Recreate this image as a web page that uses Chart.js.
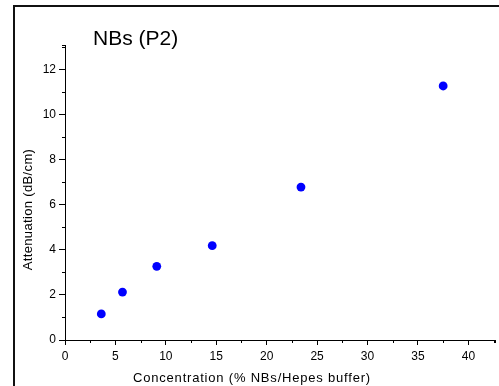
<!DOCTYPE html>
<html>
<head>
<meta charset="utf-8">
<title>NBs (P2)</title>
<script src="https://cdn.jsdelivr.net/npm/chart.js@4/dist/chart.umd.min.js"></script>
<style>
  html, body { margin: 0; padding: 0; background: #fff; }
  #wrap { position: relative; width: 499px; height: 386px; overflow: hidden; }
  #wrap canvas { position: absolute; left: 0; top: 0; }
  #frame { position: absolute; left: 13px; top: 5px; right: -10px; bottom: -10px;
           border-left: 2px solid #111; border-top: 2px solid #111; pointer-events: none; }
</style>
</head>
<body>
<div id="wrap">
  <canvas id="chart" width="499" height="386"></canvas>
  <div id="frame"></div>
</div>
<script>
// Measured attenuation versus nanobubble concentration
const concentration = [3.6, 5.7, 9.1, 14.6, 23.4, 37.5];
const attenuation   = [1.16, 2.13, 3.27, 4.19, 6.79, 11.28];

// Axis ranges and tick values
const xRange = [0, 42.6];
const yRange = [0, 13.1];
const xTickValues  = [0, 5, 10, 15, 20, 25, 30, 35, 40];
const yTickValues  = [0, 2, 4, 6, 8, 10, 12];
const xMinorValues = [2.5, 7.5, 12.5, 17.5, 22.5, 27.5, 32.5, 37.5, 42.5];
const yMinorValues = [1, 3, 5, 7, 9, 11, 13];

// Text
const chartTitle = 'NBs (P2)';
const xTitle = 'Concentration (% NBs/Hepes buffer)';
const yTitle = 'Attenuation (dB/cm)';

const FONT = '"Liberation Sans", Arial, Helvetica, sans-serif';

// Short minor ticks, axis end caps and the free-placed titles
const decorations = {
  id: 'decorations',
  afterDraw(chart) {
    const ctx = chart.ctx;
    const xs = chart.scales.x, ys = chart.scales.y;
    const area = chart.chartArea;
    ctx.save();
    ctx.strokeStyle = '#000';
    ctx.lineWidth = 1;
    ctx.beginPath();
    xMinorValues.filter(v => v <= xRange[1]).concat([xRange[1]]).forEach(v => {
      const px = Math.round(xs.getPixelForValue(v)) + 0.5;
      ctx.moveTo(px, area.bottom);
      ctx.lineTo(px, area.bottom + 3);
    });
    yMinorValues.filter(v => v <= yRange[1]).concat([yRange[1]]).forEach(v => {
      const py = Math.round(ys.getPixelForValue(v)) + 0.5;
      ctx.moveTo(area.left, py);
      ctx.lineTo(area.left - 3, py);
    });
    ctx.stroke();

    ctx.fillStyle = '#000';
    ctx.font = '21px ' + FONT;
    ctx.textAlign = 'left';
    ctx.textBaseline = 'alphabetic';
    ctx.fillText(chartTitle, 93, 45);

    ctx.font = '13px ' + FONT;
    ctx.textAlign = 'center';
    ctx.textBaseline = 'middle';
    ctx.letterSpacing = '0.8px';
    ctx.fillText(xTitle, 252, 378);

    ctx.translate(28, 209.5);
    ctx.rotate(-Math.PI / 2);
    ctx.letterSpacing = '0.35px';
    ctx.fillText(yTitle, 0, 0);
    ctx.restore();
  }
};

new Chart(document.getElementById('chart'), {
  type: 'scatter',
  data: {
    datasets: [{
      label: chartTitle,
      data: concentration.map((x, i) => ({ x: x, y: attenuation[i] })),
      backgroundColor: '#0000ff',
      borderWidth: 0,
      pointRadius: 4.4,
      pointHoverRadius: 4.4
    }]
  },
  options: {
    responsive: false,
    animation: false,
    devicePixelRatio: 1,
    layout: { padding: { top: 45, right: 2, left: 0, bottom: 0 } },
    plugins: {
      legend: { display: false },
      title: { display: false },
      tooltip: { enabled: false }
    },
    scales: {
      x: {
        type: 'linear',
        min: xRange[0],
        max: xRange[1],
        afterBuildTicks: s => { s.ticks = xTickValues.map(v => ({ value: v })); },
        afterFit: s => { s.height = 46; },
        grid: { display: true, drawOnChartArea: false, drawTicks: true, tickLength: 5, color: '#000', lineWidth: 1 },
        border: { display: true, color: '#000', width: 1 },
        ticks: { color: '#000', padding: 4, maxRotation: 0, autoSkip: false,
                 font: { family: FONT, size: 12 } },
        title: { display: false }
      },
      y: {
        type: 'linear',
        min: yRange[0],
        max: yRange[1],
        afterBuildTicks: s => { s.ticks = yTickValues.map(v => ({ value: v })); },
        afterFit: s => { s.width = 65; },
        grid: { display: true, drawOnChartArea: false, drawTicks: true, tickLength: 6, color: '#000', lineWidth: 1 },
        border: { display: true, color: '#000', width: 1 },
        ticks: { color: '#000', padding: 3, autoSkip: false,
                 font: { family: FONT, size: 12 } },
        title: { display: false }
      }
    }
  },
  plugins: [decorations]
});
</script>
</body>
</html>
